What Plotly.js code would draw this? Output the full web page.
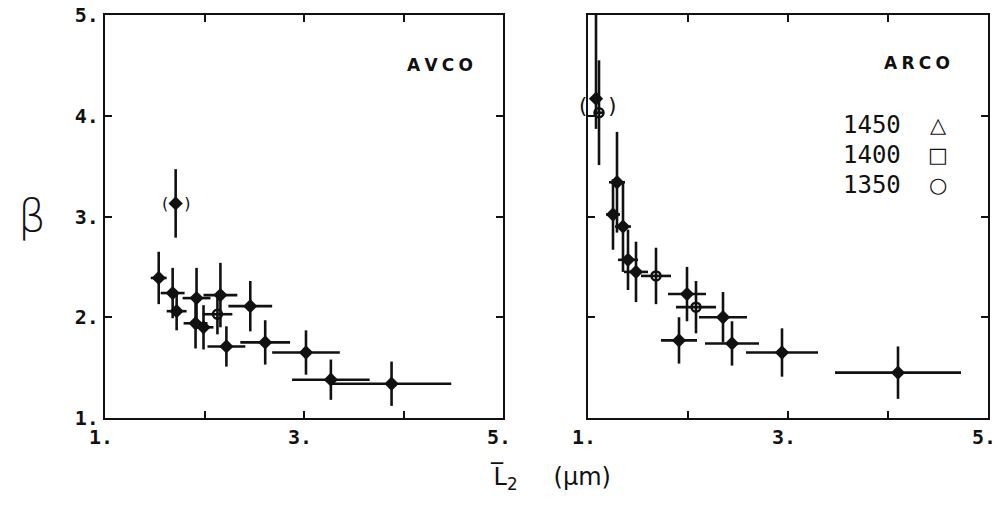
<!DOCTYPE html>
<html>
<head>
<meta charset="utf-8">
<script src="https://cdn.plot.ly/plotly-3.0.1.min.js"></script>
<style>html,body{margin:0;padding:0;background:#fff;}#plot{width:998px;height:523px;}</style>
</head>
<body>
<div id="plot"></div>
<script>
// ---- AVCO panel (filled points) ----
const avcoX     = [1.71, 1.54, 1.68, 1.72, 1.92, 2.16, 1.91, 1.99, 2.22, 2.46, 2.61, 3.02, 3.27, 3.88];
const avcoY     = [3.13, 2.39, 2.24, 2.06, 2.19, 2.22, 1.94, 1.90, 1.71, 2.11, 1.75, 1.65, 1.38, 1.34];
const avcoXerr  = [0.03, 0.08, 0.12, 0.10, 0.14, 0.17, 0.12, 0.10, 0.19, 0.22, 0.25, 0.34, 0.39, 0.60];
const avcoYerr  = [0.34, 0.26, 0.25, 0.19, 0.30, 0.32, 0.25, 0.22, 0.20, 0.25, 0.22, 0.22, 0.20, 0.22];
// ---- AVCO panel (open points) ----
const avcoOX    = [2.13];
const avcoOY    = [2.03];
const avcoOXerr = [0.15];
const avcoOYerr = [0.20];

// ---- ARCO panel (filled points) ----
const arcoX      = [1.08, 1.29, 1.25, 1.35, 1.40, 1.48, 1.99, 2.35, 1.91, 2.44, 2.94, 4.10];
const arcoY      = [4.17, 3.34, 3.02, 2.90, 2.57, 2.45, 2.23, 2.00, 1.77, 1.74, 1.65, 1.45];
const arcoXerr   = [0.04, 0.08, 0.07, 0.08, 0.10, 0.12, 0.19, 0.24, 0.18, 0.27, 0.36, 0.63];
const arcoYerrP  = [0.85, 0.50, 0.35, 0.45, 0.30, 0.30, 0.27, 0.25, 0.23, 0.22, 0.24, 0.26];
const arcoYerrM  = [0.30, 0.50, 0.35, 0.45, 0.30, 0.30, 0.27, 0.25, 0.23, 0.22, 0.24, 0.26];
// ---- ARCO panel (open points) ----
const arcoOX     = [1.11, 1.68, 2.08];
const arcoOY     = [4.03, 2.41, 2.10];
const arcoOXerr  = [0.04, 0.15, 0.20];
const arcoOYerr  = [0.52, 0.28, 0.26];

// ---- ticks / labels ----
const xTickVals  = [1, 3, 5];
const xTickText  = ['1.', '3.', '5.'];
const xMinorVals = [2, 4];
const yTickVals  = [1, 2, 3, 4, 5];
const yTickText  = ['1.', '2.', '3.', '4.', '5.'];
const legendRows = ['1450', '1400', '1350'];
const legendSyms = ['\u25B3', '\u25A1', '\u25CB'];

const ink = '#111';
function errs(arr, minus) {
  const o = {type: 'data', array: arr, visible: true, color: ink, thickness: 2.6, width: 0};
  if (minus) { o.symmetric = false; o.arrayminus = minus; }
  return o;
}
function filled(x, y, xe, ye, yem, xa, ya) {
  return {x: x, y: y, xaxis: xa, yaxis: ya, type: 'scatter', mode: 'markers',
    marker: {symbol: 'diamond', size: 11, color: ink},
    error_x: errs(xe), error_y: errs(ye, yem), showlegend: false, hoverinfo: 'skip'};
}
function open(x, y, xe, ye, xa, ya) {
  return {x: x, y: y, xaxis: xa, yaxis: ya, type: 'scatter', mode: 'markers',
    marker: {symbol: 'circle-open', size: 9, color: ink, line: {width: 2.5, color: ink}},
    error_x: errs(xe), error_y: errs(ye), showlegend: false, hoverinfo: 'skip'};
}

const traces = [
  filled(avcoX, avcoY, avcoXerr, avcoYerr, null, 'x', 'y'),
  open(avcoOX, avcoOY, avcoOXerr, avcoOYerr, 'x', 'y'),
  filled(arcoX, arcoY, arcoXerr, arcoYerrP, arcoYerrM, 'x2', 'y2'),
  open(arcoOX, arcoOY, arcoOXerr, arcoOYerr, 'x2', 'y2')
];

const tickFont = {family: 'DejaVu Sans Mono', size: 20, color: ink, weight: 'bold'};
function xax(dom) {
  return {domain: dom, range: [1, 5], tickmode: 'array', tickvals: xTickVals, ticktext: xTickText,
    ticks: 'inside', ticklen: 7, tickwidth: 2, tickcolor: ink, mirror: 'allticks',
    minor: {tickmode: 'array', tickvals: xMinorVals, ticks: 'inside', ticklen: 7, tickwidth: 2,
      tickcolor: ink, showgrid: false},
    ticklabeloverflow: 'allow', ticklabelshift: -4,
    showline: true, linewidth: 2.2, linecolor: ink, showgrid: false, zeroline: false,
    tickfont: tickFont, fixedrange: true};
}
function yax(anchor, labels) {
  return {domain: [0.2008, 0.9713], range: [1, 5], anchor: anchor, tickmode: 'array',
    tickvals: yTickVals, ticktext: yTickText, showticklabels: labels,
    ticks: 'inside', ticklen: 7, tickwidth: 2, tickcolor: ink, mirror: 'allticks',
    ticklabeloverflow: 'allow',
    showline: true, linewidth: 2.2, linecolor: ink, showgrid: false, zeroline: false,
    tickfont: tickFont, fixedrange: true};
}

const annFont = {family: 'DejaVu Sans', size: 17, color: ink, weight: 'bold'};
const legFont = {family: 'DejaVu Sans Mono', size: 24, color: ink};
const annotations = [
  {xref: 'x', yref: 'y', x: 4.37, y: 4.5, text: 'A\u2005V\u2005C\u2005O', showarrow: false, font: annFont},
  {xref: 'x2', yref: 'y2', x: 4.29, y: 4.52, text: 'A\u2005R\u2005C\u2005O', showarrow: false, font: annFont},
  {xref: 'x', yref: 'y', x: avcoX[0], y: avcoY[0], xanchor: 'center', text: '(\u2003)', showarrow: false,
    font: {family: 'DejaVu Sans', size: 16, color: ink}},
  {xref: 'x2', yref: 'y2', x: (arcoX[0] + arcoOX[0]) / 2, y: (arcoY[0] + arcoOY[0]) / 2, xanchor: 'center',
    text: '(\u2003)', showarrow: false, font: {family: 'DejaVu Sans', size: 21, color: ink}},
  {xref: 'paper', yref: 'paper', x: 32 / 998, y: 1 - 215 / 523, xanchor: 'center', text: '\u03B2', showarrow: false,
    font: {family: 'DejaVu Sans', size: 44, color: ink, weight: 300}},
  {xref: 'paper', yref: 'paper', x: 550 / 998, y: 1 - 496 / 523, xanchor: 'center',
    text: 'L\u0305<sub>2</sub>\u2003\u2002(\u03BCm)', showarrow: false,
    font: {family: 'DejaVu Sans', size: 24, color: ink}}
];
const legY = [3.91, 3.61, 3.31];
legendRows.forEach(function (t, i) {
  annotations.push({xref: 'x2', yref: 'y2', x: 3.84, y: legY[i], text: t, showarrow: false, font: legFont});
  annotations.push({xref: 'x2', yref: 'y2', x: 4.5, y: legY[i], text: legendSyms[i], showarrow: false,
    font: {family: 'DejaVu Sans', size: 21, color: ink, weight: 'bold'}});
});

const layout = {
  width: 998, height: 523,
  margin: {l: 0, r: 0, t: 0, b: 0},
  paper_bgcolor: '#fff', plot_bgcolor: '#fff',
  showlegend: false,
  xaxis: Object.assign(xax([105 / 998, 503 / 998]), {anchor: 'y'}),
  yaxis: yax('x', true),
  xaxis2: Object.assign(xax([588 / 998, 988 / 998]), {anchor: 'y2'}),
  yaxis2: yax('x2', false),
  annotations: annotations
};

Plotly.newPlot('plot', traces, layout, {staticPlot: true, displayModeBar: false});
</script>
</body>
</html>
